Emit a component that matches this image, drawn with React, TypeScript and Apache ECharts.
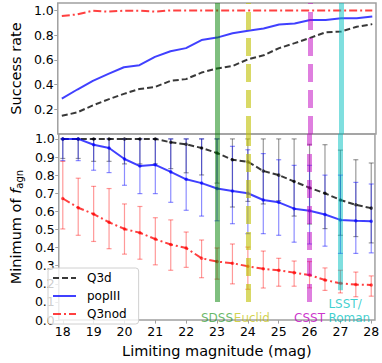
import React, { useEffect, useRef } from "react";
import * as echarts from "echarts";

// Limiting magnitudes (x)
const mags = [18, 18.5, 19, 19.5, 20, 20.5, 21, 21.5, 22, 22.5, 23, 23.5, 24, 24.5, 25, 25.5, 26, 26.5, 27, 27.5, 28];
const xTicks = [18, 19, 20, 21, 22, 23, 24, 25, 26, 27, 28];
const topYTicks = [0.2, 0.4, 0.6, 0.8, 1.0];
const botYTicks = [0, 0.1, 0.2, 0.3, 0.4, 0.5, 0.6, 0.7, 0.8, 0.9, 1.0];
const legendNames = ["Q3d", "popIII", "Q3nod"];

// Top panel: success rate
const q3dRate = [0.147, 0.175, 0.232, 0.28, 0.325, 0.364, 0.38, 0.43, 0.444, 0.497, 0.53, 0.55, 0.605, 0.637, 0.695, 0.735, 0.778, 0.823, 0.83, 0.868, 0.889];
const popRate = [0.287, 0.36, 0.43, 0.486, 0.54, 0.557, 0.624, 0.67, 0.695, 0.76, 0.78, 0.815, 0.836, 0.854, 0.886, 0.894, 0.923, 0.923, 0.936, 0.936, 0.95];
const nodRate = [0.955, 0.968, 0.998, 0.99, 0.998, 0.998, 0.99, 1.0, 1.0, 1.0, 1.0, 1.0, 1.0, 1.0, 1.0, 1.0, 1.0, 1.0, 1.0, 1.0, 1.0];

// Bottom panel: minimum f_agn with error ranges
const q3dMin = [1, 1, 1, 1, 1, 1, 1, 0.981, 0.970, 0.950, 0.922, 0.885, 0.874, 0.823, 0.800, 0.765, 0.730, 0.700, 0.663, 0.636, 0.618];
const q3dLo = [0.892, 0.892, 0.876, 0.876, 0.862, 0.862, 0.862, 0.836, 0.813, 0.801, 0.756, 0.624, 0.655, 0.641, 0.659, 0.574, 0.53, 0.505, 0.468, 0.461, 0.426];
const q3dHi = [1, 1, 1, 1, 1, 1, 1, 1, 1, 1, 1, 1, 1, 1, 1, 1, 0.97, 0.968, 0.938, 0.885, 0.867];

const popMin = [1.0, 1.0, 0.968, 0.950, 0.889, 0.850, 0.857, 0.818, 0.777, 0.756, 0.726, 0.712, 0.700, 0.663, 0.650, 0.615, 0.603, 0.583, 0.553, 0.548, 0.546];
const popLo = [0.880, 0.880, 0.827, 0.814, 0.744, 0.698, 0.698, 0.650, 0.606, 0.574, 0.548, 0.532, 0.477, 0.477, 0.468, 0.430, 0.420, 0.408, 0.368, 0.368, 0.371];
const popHi = [1, 1, 1, 1, 1, 1, 1, 1, 1, 1, 1, 0.959, 0.94, 0.919, 0.885, 0.854, 0.854, 0.800, 0.800, 0.760, 0.751];

const nodMin = [0.671, 0.620, 0.585, 0.540, 0.503, 0.482, 0.447, 0.417, 0.398, 0.341, 0.323, 0.314, 0.297, 0.283, 0.275, 0.262, 0.249, 0.221, 0.203, 0.196, 0.194];
const nodLo = [0.503, 0.468, 0.434, 0.394, 0.364, 0.336, 0.305, 0.275, 0.291, 0.234, 0.226, 0.200, 0.170, 0.177, 0.187, 0.187, 0.178, 0.164, 0.150, 0.129, 0.132];
const nodHi = [0.876, 0.783, 0.738, 0.726, 0.641, 0.627, 0.565, 0.553, 0.486, 0.442, 0.398, 0.420, 0.403, 0.381, 0.341, 0.326, 0.323, 0.288, 0.275, 0.265, 0.244];

// Survey limiting magnitudes
const surveyNames = ["SDSS", "Euclid", "CSST", "LSST/\nRoman"];
const surveyMags = [23, 24, 26, 27];

const FONT = "DejaVu Sans";
const BLACK = "rgba(0,0,0,0.78)";
const BLUE = "rgba(0,0,255,0.75)";
const RED = "rgba(255,0,0,0.75)";
const surveyLine = ["rgba(0,128,0,0.5)", "rgba(191,191,0,0.6)", "rgba(191,0,191,0.5)", "rgba(0,191,191,0.5)"];
const surveyText = ["rgba(0,140,0,0.6)", "rgba(191,191,0,0.7)", "rgba(191,0,191,0.8)", "rgba(0,191,191,0.75)"];
const surveyType: any[] = ["solid", [18, 8], [18, 8], "solid"];
const surveyStart = [0.1, 0.1, 0.1, 0.165];
const surveyLabelAlign = ["center", "center", "center", "left"];
const surveyLabelDx = [0, 4, 0, -12];
const surveyLabelDist = [16, 16, 16, 21];

const XMIN = 17.87;
const XMAX = 28.12;
const TOPMAX = 1.06;
const BOTMAX = 1.027;
const AXISC = "#a0a0a0";

function pairs(ys: number[]) {
  return mags.map((m, i) => [m, ys[i]]);
}
function errData(lo: number[], hi: number[]) {
  return mags.map((m, i) => [m, lo[i], hi[i]]);
}

function errSeries(lo: number[], hi: number[], color: string) {
  return {
    type: "custom",
    xAxisIndex: 1,
    yAxisIndex: 1,
    silent: true,
    z: 1,
    data: errData(lo, hi),
    encode: { x: 0, y: [1, 2] },
    renderItem: (params: any, api: any) => {
      const x = api.value(0);
      const p1 = api.coord([x, api.value(1)]);
      const p2 = api.coord([x, api.value(2)]);
      const cw = 2.5;
      const st = { stroke: color, lineWidth: 1.2 };
      return {
        type: "group",
        children: [
          { type: "line", shape: { x1: p1[0], y1: p1[1], x2: p2[0], y2: p2[1] }, style: st },
          { type: "line", shape: { x1: p1[0] - cw, y1: p1[1], x2: p1[0] + cw, y2: p1[1] }, style: st },
          { type: "line", shape: { x1: p2[0] - cw, y1: p2[1], x2: p2[0] + cw, y2: p2[1] }, style: st },
        ],
      };
    },
  };
}

function dots(ys: number[], color: string) {
  return {
    type: "scatter", xAxisIndex: 1, yAxisIndex: 1, data: pairs(ys), symbol: "circle", symbolSize: 3.5,
    itemStyle: { color }, z: 4, silent: true,
  };
}

function markLines(bottom: boolean) {
  return surveyMags.map((m, i) => [
    {
      coord: [m, bottom ? surveyStart[i] : 0],
      lineStyle: { color: surveyLine[i], width: 5, type: surveyType[i] },
      label: bottom
        ? {
            show: true,
            position: "start",
            formatter: surveyNames[i],
            color: surveyText[i],
            fontFamily: FONT,
            fontSize: 12,
            lineHeight: 14,
            distance: surveyLabelDist[i],
            align: surveyLabelAlign[i],
            verticalAlign: "middle",
            offset: [surveyLabelDx[i], 0],
          }
        : { show: false },
    },
    { coord: [m, bottom ? BOTMAX : TOPMAX] },
  ]);
}

export default function App() {
  const ref = useRef<HTMLDivElement>(null);
  useEffect(() => {
    if (!ref.current) return;
    const chart = echarts.init(ref.current, null, { renderer: "svg" });
    const axisLabelStyle = { fontFamily: FONT, fontSize: 12.5, color: "#000" };
    const option: any = {
      animation: false,
      textStyle: { fontFamily: FONT },
      grid: [
        { left: 42, right: 6, top: 3, height: 131, show: true, borderColor: AXISC, borderWidth: 1.5, backgroundColor: "transparent" },
        { left: 42, right: 6, top: 134, height: 194, show: true, borderColor: AXISC, borderWidth: 1.5, backgroundColor: "transparent" },
      ],
      xAxis: [
        {
          type: "value", gridIndex: 0, min: XMIN, max: XMAX,
          axisLine: { show: false }, axisTick: { show: false }, axisLabel: { show: false }, splitLine: { show: false },
        },
        {
          type: "value", gridIndex: 1, min: XMIN, max: XMAX,
          axisLine: { show: false },
          axisTick: { show: true, length: 3.5, lineStyle: { color: AXISC }, customValues: xTicks },
          axisLabel: { ...axisLabelStyle, margin: 5, customValues: xTicks, formatter: (v: number) => String(v) },
          splitLine: { show: false },
          name: "Limiting magnitude (mag)",
          nameLocation: "middle",
          nameGap: 20,
          nameTextStyle: { fontFamily: FONT, fontSize: 14.5, color: "#000" },
        },
      ],
      yAxis: [
        {
          type: "value", gridIndex: 0, min: 0, max: TOPMAX,
          axisLine: { show: false },
          axisTick: { show: true, length: 3.5, lineStyle: { color: AXISC }, customValues: topYTicks },
          axisLabel: { ...axisLabelStyle, margin: 4, customValues: topYTicks, formatter: (v: number) => v.toFixed(1) },
          splitLine: { show: false },
          name: "Success rate",
          nameLocation: "middle",
          nameRotate: 90,
          nameGap: 27,
          nameTextStyle: { fontFamily: FONT, fontSize: 14.5, color: "#000" },
        },
        {
          type: "value", gridIndex: 1, min: 0, max: BOTMAX,
          axisLine: { show: false },
          axisTick: { show: true, length: 3.5, lineStyle: { color: AXISC }, customValues: botYTicks },
          axisLabel: { ...axisLabelStyle, margin: 4, customValues: botYTicks, formatter: (v: number) => v.toFixed(1) },
          splitLine: { show: false },
          name: "Minimum of {it|f}{sub|agn}",
          nameLocation: "middle",
          nameRotate: 90,
          nameGap: 27,
          nameTextStyle: {
            fontFamily: FONT, fontSize: 14.5, color: "#000",
            rich: {
              it: { fontFamily: FONT, fontSize: 14.5, fontStyle: "italic", color: "#000" },
              sub: { fontFamily: FONT, fontSize: 10, color: "#000", padding: [7, 0, 0, 0] },
            },
          },
        },
      ],
      legend: {
        orient: "vertical",
        left: 48,
        top: 268,
        data: legendNames.map((n) => ({ name: n, itemStyle: { opacity: 0 } })),
        itemWidth: 23,
        itemHeight: 12,
        itemGap: 6,
        padding: [4, 12, 4, 4],
        borderColor: "#d0d0d0",
        borderWidth: 1,
        borderRadius: 3,
        backgroundColor: "rgba(255,255,255,0.8)",
        textStyle: { fontFamily: FONT, fontSize: 12, color: "#000", padding: [0, 0, 0, 6] },
        selectedMode: false,
      },
      series: [
        // top panel
        { name: "Q3d", type: "line", xAxisIndex: 0, yAxisIndex: 0, data: pairs(q3dRate), symbol: "none", lineStyle: { color: BLACK, width: 2, type: [6, 3] }, itemStyle: { color: BLACK }, z: 3 },
        { name: "popIII", type: "line", xAxisIndex: 0, yAxisIndex: 0, data: pairs(popRate), symbol: "none", lineStyle: { color: BLUE, width: 2, type: "solid" }, itemStyle: { color: BLUE }, z: 3 },
        { name: "Q3nod", type: "line", xAxisIndex: 0, yAxisIndex: 0, data: pairs(nodRate), symbol: "none", lineStyle: { color: RED, width: 2, type: [8, 3, 2, 3] }, itemStyle: { color: RED }, z: 3 },
        // bottom error bars
        errSeries(q3dLo, q3dHi, "rgba(0,0,0,0.4)"),
        errSeries(popLo, popHi, "rgba(0,0,255,0.45)"),
        errSeries(nodLo, nodHi, "rgba(255,0,0,0.4)"),
        // bottom lines
        { name: "Q3d", type: "line", xAxisIndex: 1, yAxisIndex: 1, data: pairs(q3dMin), symbol: "none", lineStyle: { color: BLACK, width: 2, type: [6, 3] }, itemStyle: { color: BLACK }, z: 3 },
        { name: "popIII", type: "line", xAxisIndex: 1, yAxisIndex: 1, data: pairs(popMin), symbol: "none", lineStyle: { color: BLUE, width: 2, type: "solid" }, itemStyle: { color: BLUE }, z: 3 },
        { name: "Q3nod", type: "line", xAxisIndex: 1, yAxisIndex: 1, data: pairs(nodMin), symbol: "none", lineStyle: { color: RED, width: 2, type: [8, 3, 2, 3] }, itemStyle: { color: RED }, z: 3 },
        dots(q3dMin, BLACK),
        dots(popMin, BLUE),
        dots(nodMin, RED),
        // survey lines
        { type: "line", xAxisIndex: 0, yAxisIndex: 0, data: [], z: 5, silent: true, markLine: { silent: true, symbol: ["none", "none"], animation: false, data: markLines(false) } },
        { type: "line", xAxisIndex: 1, yAxisIndex: 1, data: [], z: 5, silent: true, markLine: { silent: true, symbol: ["none", "none"], animation: false, data: markLines(true) } },
      ],
    };
    chart.setOption(option);
    return () => chart.dispose();
  }, []);
  return <div ref={ref} style={{ width: 382, height: 363, position: "absolute", left: 0, top: 0 }} />;
}
